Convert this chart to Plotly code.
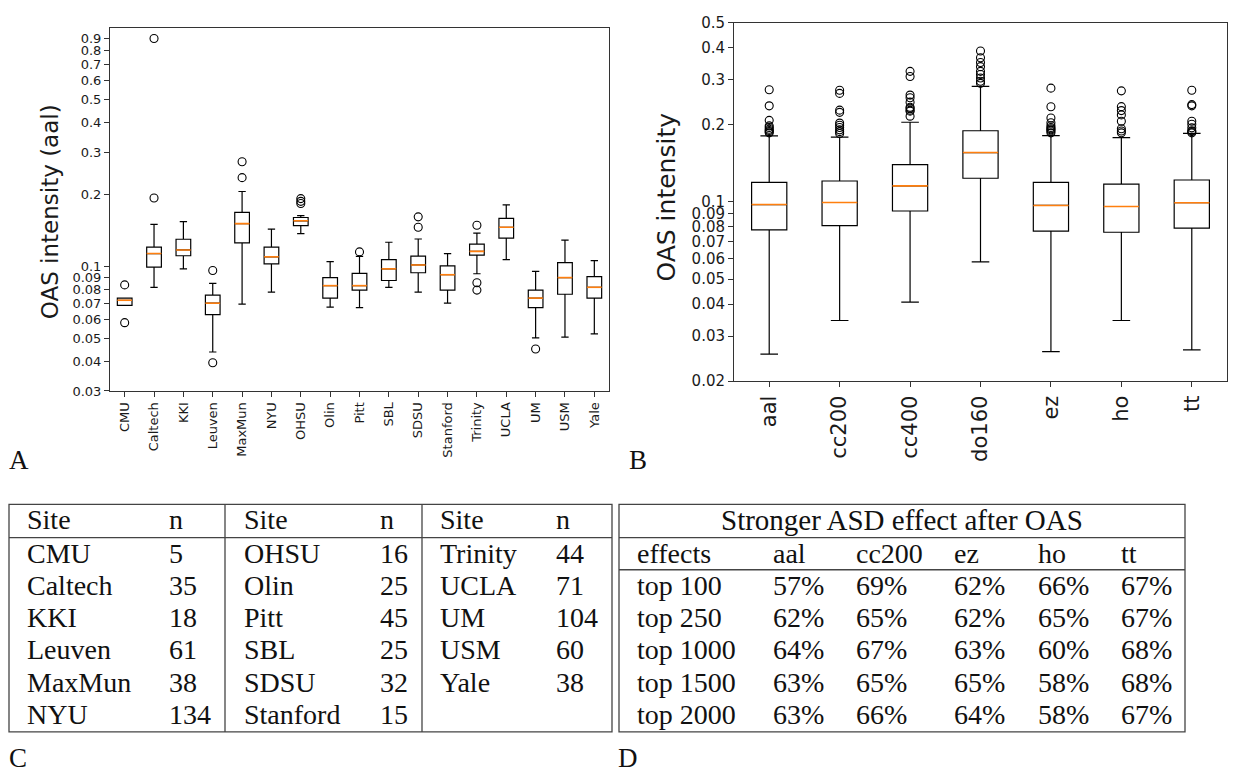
import math
import plotly.graph_objects as go

W, H = 1233, 781

# ---------------- Panel A data (per site, aal) ----------------
sites = ["CMU", "Caltech", "KKI", "Leuven", "MaxMun", "NYU", "OHSU", "Olin", "Pitt",
         "SBL", "SDSU", "Stanford", "Trinity", "UCLA", "UM", "USM", "Yale"]
a_lower = [0.0685, 0.0816, 0.0975, 0.0437, 0.0693, 0.0778, 0.137, 0.0674, 0.0670,
           0.0816, 0.0778, 0.0700, 0.0930, 0.1065, 0.0501, 0.0504, 0.0521]
a_q1 = [0.0685, 0.0991, 0.1106, 0.0627, 0.1253, 0.1022, 0.148, 0.0735, 0.0794,
        0.0871, 0.0939, 0.0794, 0.1112, 0.1310, 0.0670, 0.0763, 0.0735]
a_med = [0.0720, 0.1130, 0.1170, 0.0700, 0.1508, 0.1095, 0.155, 0.0829, 0.0829,
         0.0975, 0.1012, 0.0921, 0.1154, 0.1456, 0.0735, 0.0896, 0.0816]
a_q3 = [0.0735, 0.1203, 0.1297, 0.0756, 0.1680, 0.1203, 0.160, 0.0896, 0.0933,
        0.1065, 0.1102, 0.1003, 0.1238, 0.1585, 0.0794, 0.1035, 0.0904]
a_upper = [0.0735, 0.1498, 0.1536, 0.0847, 0.2056, 0.1429, 0.163, 0.1045, 0.1099,
           0.1260, 0.1300, 0.1130, 0.1376, 0.1807, 0.0951, 0.1285, 0.1055]
a_out_site = ["CMU", "CMU", "Caltech", "Caltech", "Leuven", "Leuven", "MaxMun", "MaxMun",
              "OHSU", "OHSU", "OHSU", "Pitt", "SDSU", "SDSU", "Trinity", "Trinity", "Trinity", "UM"]
a_out_val = [0.0835, 0.0580, 0.900, 0.193, 0.096, 0.0394, 0.274, 0.235,
             0.192, 0.187, 0.183, 0.1148, 0.161, 0.1456, 0.1484, 0.0853, 0.0794, 0.045]
a_ticks = [0.03, 0.04, 0.05, 0.06, 0.07, 0.08, 0.09, 0.1, 0.2, 0.3, 0.4, 0.5, 0.6, 0.7, 0.8, 0.9]
a_ticktext = ["0.03", "0.04", "0.05", "0.06", "0.07", "0.08", "0.09", "0.1",
              "0.2", "0.3", "0.4", "0.5", "0.6", "0.7", "0.8", "0.9"]

# ---------------- Panel B data (per atlas) ----------------
atlases = ["aal", "cc200", "cc400", "do160", "ez", "ho", "tt"]
b_lower = [0.0255, 0.0345, 0.0407, 0.0584, 0.0261, 0.0345, 0.0265]
b_q1 = [0.0778, 0.0808, 0.0922, 0.1237, 0.0769, 0.0762, 0.0791]
b_med = [0.0977, 0.0995, 0.1155, 0.1558, 0.0969, 0.0960, 0.0993]
b_q3 = [0.1193, 0.1207, 0.1398, 0.1895, 0.1193, 0.1173, 0.1218]
b_upper = [0.1809, 0.1790, 0.2045, 0.2824, 0.1815, 0.1780, 0.1852]
b_out_aal = [0.274, 0.237, 0.208, 0.198, 0.195, 0.192, 0.190, 0.188, 0.186]
b_out_cc200 = [0.2725, 0.265, 0.228, 0.2235, 0.203, 0.199, 0.195, 0.191, 0.188, 0.185]
b_out_cc400 = [0.323, 0.3085, 0.261, 0.255, 0.245, 0.234, 0.232, 0.228, 0.226, 0.216]
b_out_do160 = [0.3876, 0.365, 0.3495, 0.337, 0.323, 0.3138, 0.3043, 0.2956, 0.290]
b_out_ez = [0.2778, 0.2352, 0.2125, 0.2036, 0.1982, 0.195, 0.193, 0.191, 0.189, 0.186]
b_out_ho = [0.2711, 0.2353, 0.2271, 0.2185, 0.2064, 0.193, 0.189, 0.186]
b_out_tt = [0.2725, 0.2396, 0.237, 0.2064, 0.201, 0.1945, 0.1896, 0.188, 0.186]
b_ticks = [0.02, 0.03, 0.04, 0.05, 0.06, 0.07, 0.08, 0.09, 0.1, 0.2, 0.3, 0.4, 0.5]
b_ticktext = ["0.02", "0.03", "0.04", "0.05", "0.06", "0.07", "0.08", "0.09",
              "0.1", "0.2", "0.3", "0.4", "0.5"]

# ---------------- Panel C data ----------------
c_sites = sites
c_n = [5, 35, 18, 61, 38, 134, 16, 25, 45, 25, 32, 15, 44, 71, 104, 60, 38]

# ---------------- Panel D data ----------------
d_title = "Stronger ASD effect after OAS"
d_effects = ["top 100", "top 250", "top 1000", "top 1500", "top 2000"]
d_cols = ["aal", "cc200", "ez", "ho", "tt"]
d_aal = [57, 62, 64, 63, 63]
d_cc200 = [69, 65, 67, 65, 66]
d_ez = [62, 62, 63, 65, 64]
d_ho = [66, 65, 60, 58, 58]
d_tt = [67, 67, 68, 68, 67]

# ---------------- helpers ----------------
def px(x):
    return x / W

def py(y):
    return 1 - y / H

BOX_W = 0.5
MED_COLOR = "#ff7f0e"
SANS = "DejaVu Sans"
SERIF = "Liberation Serif"
TXT = "#1a1a1a"

fig = go.Figure()


def add_boxes(pos, lo, q1, med, q3, hi, xa, ya):
    fig.add_trace(go.Box(
        x=pos, q1=q1, median=med, q3=q3, lowerfence=lo, upperfence=hi,
        width=BOX_W, whiskerwidth=0.5, boxpoints=False,
        line=dict(color="black", width=1.2), fillcolor="rgba(0,0,0,0)",
        xaxis=xa, yaxis=ya, showlegend=False, hoverinfo="skip"))
    mx, my = [], []
    for p, m in zip(pos, med):
        mx += [p - BOX_W / 2, p + BOX_W / 2, None]
        my += [m, m, None]
    fig.add_trace(go.Scatter(x=mx, y=my, mode="lines",
                             line=dict(color=MED_COLOR, width=1.6),
                             xaxis=xa, yaxis=ya, showlegend=False, hoverinfo="skip"))


def add_outliers(xs, ys, xa, ya):
    fig.add_trace(go.Scatter(
        x=xs, y=ys, mode="markers",
        marker=dict(symbol="circle-open", size=8, color="black", line=dict(width=1.1)),
        xaxis=xa, yaxis=ya, showlegend=False, hoverinfo="skip"))


# Panel A
pos_a = list(range(1, len(sites) + 1))
add_boxes(pos_a, a_lower, a_q1, a_med, a_q3, a_upper, "x", "y")
add_outliers([sites.index(s) + 1 for s in a_out_site], a_out_val, "x", "y")

# Panel B
pos_b = list(range(1, len(atlases) + 1))
add_boxes(pos_b, b_lower, b_q1, b_med, b_q3, b_upper, "x2", "y2")
b_outs = [b_out_aal, b_out_cc200, b_out_cc400, b_out_do160, b_out_ez, b_out_ho, b_out_tt]
ox, oy = [], []
for i, vals in enumerate(b_outs):
    ox += [pos_b[i]] * len(vals)
    oy += vals
add_outliers(ox, oy, "x2", "y2")

axis_common = dict(showline=True, mirror=True, linecolor="#333", linewidth=1,
                   showgrid=False, zeroline=False, ticks="outside", ticklen=5,
                   tickcolor="#333", tickwidth=1)

fig.update_layout(
    width=W, height=H, autosize=False,
    margin=dict(l=0, r=0, t=0, b=0, pad=0),
    paper_bgcolor="white", plot_bgcolor="white",
    showlegend=False,
    xaxis=dict(domain=[px(110), px(609)], anchor="y", range=[0.5, len(sites) + 0.5],
               tickmode="array", tickvals=pos_a, ticktext=sites, tickangle=-90,
               tickfont=dict(family=SANS, size=13, color=TXT), **axis_common),
    yaxis=dict(domain=[py(391), py(19)], anchor="x", type="log",
               range=[math.log10(0.03), 0.0],
               tickmode="array", tickvals=a_ticks, ticktext=a_ticktext,
               tickfont=dict(family=SANS, size=13, color=TXT), **axis_common),
    xaxis2=dict(domain=[px(734), px(1227)], anchor="y2", range=[0.5, len(atlases) + 0.5],
                tickmode="array", tickvals=pos_b, ticktext=atlases, tickangle=-90,
                tickfont=dict(family=SANS, size=21, color=TXT), **axis_common),
    yaxis2=dict(domain=[py(381), py(14)], anchor="x2", type="log",
                range=[math.log10(0.02), math.log10(0.5)],
                tickmode="array", tickvals=b_ticks, ticktext=b_ticktext,
                tickfont=dict(family=SANS, size=15, color=TXT), **axis_common),
)

ann = []
# axis titles
ann.append(dict(text="OAS intensity (aal)", x=px(50), y=py(207), xref="paper", yref="paper",
                textangle=-90, showarrow=False, xanchor="center", yanchor="middle",
                font=dict(family=SANS, size=23, color=TXT)))
ann.append(dict(text="OAS intensity", x=px(667), y=py(193), xref="paper", yref="paper",
                textangle=-90, showarrow=False, xanchor="center", yanchor="middle",
                font=dict(family=SANS, size=25, color=TXT)))

# panel letters
for letter, (lx, ly) in zip(["A", "B", "C", "D"], [(19, 462), (638, 462), (18, 767), (628, 767)]):
    ann.append(dict(text=letter, x=px(lx), y=py(ly), xref="paper", yref="paper",
                    showarrow=False, xanchor="center", yanchor="middle",
                    font=dict(family=SERIF, size=27, color="#111")))


def tab_text(t, x, y, anchor="left", size=28):
    ann.append(dict(text=t, x=px(x), y=py(y), xref="paper", yref="paper",
                    showarrow=False, xanchor=anchor, yanchor="middle",
                    font=dict(family=SERIF, size=size, color="#111")))


# ---- Table C ----
c_row_y = [523, 557, 590, 623, 656, 689, 722]
c_site_x = [25, 242, 438]
c_n_x = [167, 378, 554]
for g in range(3):
    tab_text("Site", c_site_x[g], c_row_y[0])
    tab_text("n", c_n_x[g], c_row_y[0])
    for r, idx in enumerate(range(g * 6, min(g * 6 + 6, len(c_sites)))):
        tab_text(c_sites[idx], c_site_x[g], c_row_y[r + 1])
        tab_text(str(c_n[idx]), c_n_x[g], c_row_y[r + 1])

# ---- Table D ----
tab_text(d_title, 902, 523, anchor="center", size=29)
d_col_x = [635, 771, 854, 952, 1036, 1119]
d_row_y = [557, 590, 623, 656, 689, 722]
tab_text("effects", d_col_x[0], d_row_y[0])
for j, c in enumerate(d_cols):
    tab_text(c, d_col_x[j + 1], d_row_y[0])
d_vals = [d_aal, d_cc200, d_ez, d_ho, d_tt]
for i, e in enumerate(d_effects):
    tab_text(e, d_col_x[0], d_row_y[i + 1])
    for j, vals in enumerate(d_vals):
        tab_text(f"{vals[i]}%", d_col_x[j + 1], d_row_y[i + 1])

fig.update_layout(annotations=ann)

# table rules
LC = "#444"
shapes = []


def rect(x0, y0, x1, y1):
    shapes.append(dict(type="rect", xref="paper", yref="paper", x0=px(x0), x1=px(x1),
                       y0=py(y1), y1=py(y0), line=dict(color=LC, width=1.3)))


def hline(x0, x1, y):
    shapes.append(dict(type="line", xref="paper", yref="paper", x0=px(x0), x1=px(x1),
                       y0=py(y), y1=py(y), line=dict(color=LC, width=1.3)))


def vline(x, y0, y1):
    shapes.append(dict(type="line", xref="paper", yref="paper", x0=px(x), x1=px(x),
                       y0=py(y0), y1=py(y1), line=dict(color=LC, width=1.3)))


rect(9, 507, 612, 740)
hline(9, 612, 541)
vline(225, 507, 740)
vline(422, 507, 740)

rect(619, 507, 1185, 740)
hline(619, 1185, 541)
hline(619, 1185, 574)

fig.update_layout(shapes=shapes)

fig.write_html("out.html")
